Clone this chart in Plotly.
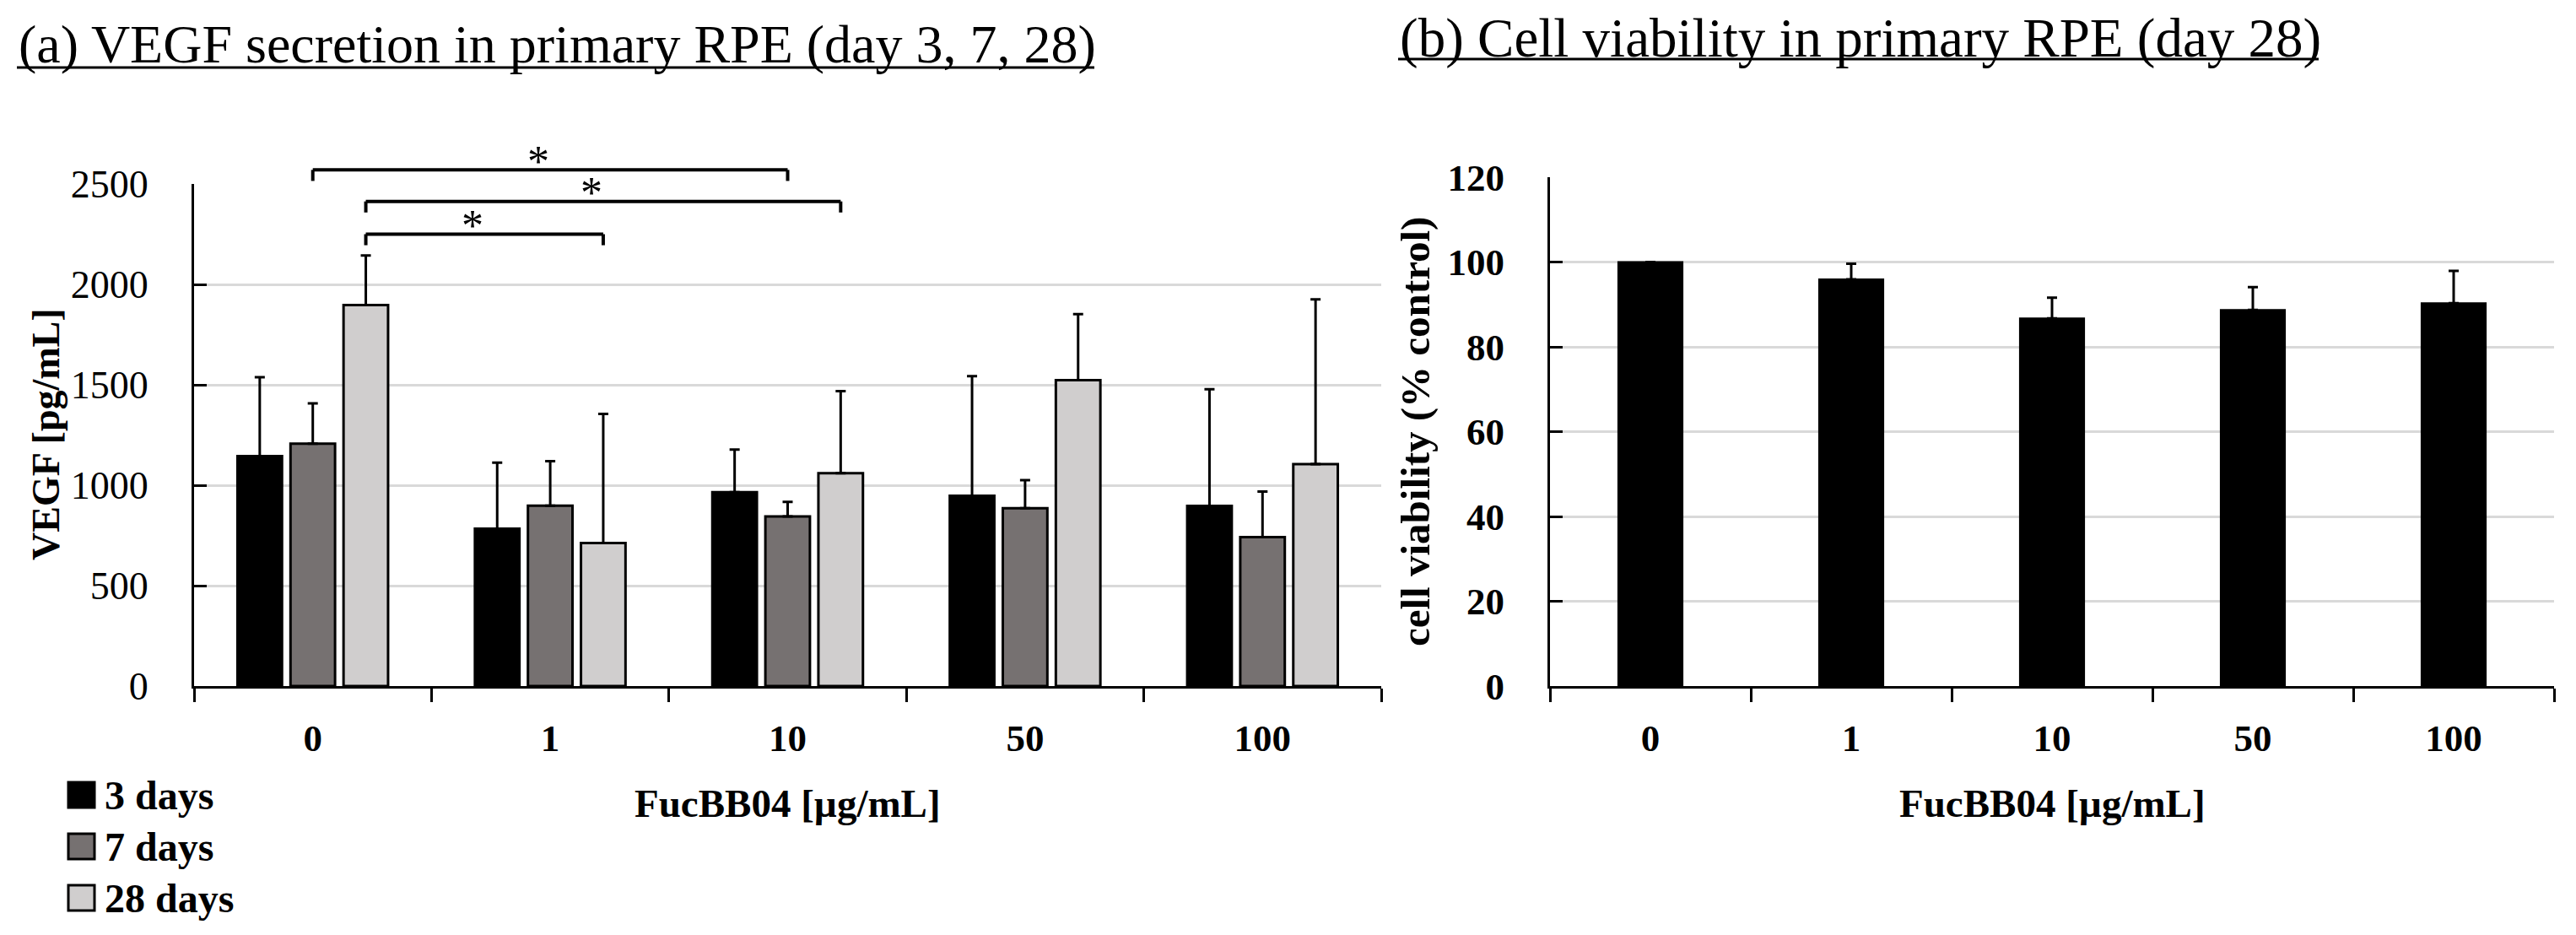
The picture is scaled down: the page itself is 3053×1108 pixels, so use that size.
import plotly.graph_objects as go

# ---------------- data ----------------
concentrations = ["0", "1", "10", "50", "100"]
series_names = ["3 days", "7 days", "28 days"]

vegf_3d = [1145, 784, 965, 947, 897]
vegf_3d_sd = [393, 328, 213, 596, 581]
vegf_7d = [1207, 898, 845, 886, 742]
vegf_7d_sd = [201, 222, 72, 139, 226]
vegf_28d = [1897, 712, 1060, 1523, 1105]
vegf_28d_sd = [247, 643, 408, 329, 820]

viability = [100, 95.9, 86.7, 88.7, 90.3]
viability_sd = [0, 3.7, 4.9, 5.4, 7.6]

# significance brackets: (from group, to group, series index, bracket level)
sig_from = [0, 0, 0]
sig_to = [2, 2, 1]
sig_series = [1, 2, 2]
sig_level = [2570, 2413, 2250]
sig_label = ["*", "*", "*"]

vegf_ticks = [0, 500, 1000, 1500, 2000, 2500]
viab_ticks = [0, 20, 40, 60, 80, 100, 120]

title_a = "(a) VEGF secretion in primary RPE (day 3, 7, 28)"
title_b = "(b) Cell viability in primary RPE (day 28)"
xtitle = "FucBB04 [µg/mL]"
ytitle_a = "VEGF [pg/mL]"
ytitle_b = "cell viability (% control)"

# ---------------- style ----------------
W, H = 3053, 1108
colors = ["#000000", "#767171", "#d0cece"]
SERIF = "Liberation Serif"
BARGAP = 0.33
BARGROUPGAP = 0.16


def px_x(p):
    return p / W


def px_y(p):
    return 1 - p / H


ax_a_x = [px_x(230), px_x(1637)]
ax_a_y = [px_y(813), px_y(218)]
ax_b_x = [px_x(1837), px_x(3027)]
ax_b_y = [px_y(813), px_y(210)]

fig = go.Figure()

for name, vals, sd, col in zip(series_names,
                               [vegf_3d, vegf_7d, vegf_28d],
                               [vegf_3d_sd, vegf_7d_sd, vegf_28d_sd],
                               colors):
    fig.add_trace(go.Bar(
        x=concentrations, y=vals, name=name,
        marker=dict(color=col, line=dict(color="black", width=3)),
        error_y=dict(type="data", array=sd, arrayminus=[0] * len(sd),
                     symmetric=False, color="black", thickness=3, width=6),
        xaxis="x", yaxis="y", showlegend=False,
    ))

fig.add_trace(go.Bar(
    x=concentrations, y=viability, name="cell viability",
    width=0.32,
    marker=dict(color="black", line=dict(color="black", width=2)),
    error_y=dict(type="data", array=viability_sd, arrayminus=[0] * len(viability_sd),
                 symmetric=False, color="black", thickness=3, width=6),
    xaxis="x2", yaxis="y2", showlegend=False,
))

common_x = dict(type="category", showline=True, linecolor="black", linewidth=3,
                ticks="outside", tickson="boundaries", ticklen=16, tickwidth=3,
                tickcolor="black", showgrid=False, zeroline=False, automargin=False,
                tickfont=dict(family=SERIF, size=45, color="black", weight="bold"),
                ticklabelstandoff=20)
common_y = dict(showline=True, linecolor="black", linewidth=3,
                ticks="inside", ticklen=15, tickwidth=3, tickcolor="black",
                showgrid=True, gridcolor="#d9d9d9", gridwidth=3, zeroline=False,
                automargin=False, ticklabelstandoff=42)

fig.update_layout(
    template="none",
    width=W, height=H,
    margin=dict(l=0, r=0, t=0, b=0, pad=0, autoexpand=False),
    paper_bgcolor="white", plot_bgcolor="white",
    barmode="group", bargap=BARGAP, bargroupgap=BARGROUPGAP,
    showlegend=False,
    xaxis=dict(domain=ax_a_x, anchor="y", **common_x),
    yaxis=dict(domain=ax_a_y, anchor="x", range=[0, 2500], tickvals=vegf_ticks,
               tickfont=dict(family=SERIF, size=46, color="black"), **common_y),
    xaxis2=dict(domain=ax_b_x, anchor="y2", **common_x),
    yaxis2=dict(domain=ax_b_y, anchor="x2", range=[0, 120], tickvals=viab_ticks,
                tickfont=dict(family=SERIF, size=45, color="black", weight="bold"),
                **common_y),
)

annotations = []
shapes = []

# titles with underline rules
for text, x0, x1, yc, yu, fs in [(title_a, 20, 1297, 52, 80, 64), (title_b, 1657, 2748, 45, 70, 65)]:
    annotations.append(dict(text=text, xref="paper", yref="paper",
                            x=px_x(x0), y=px_y(yc), xanchor="left", yanchor="middle",
                            showarrow=False, font=dict(family=SERIF, size=fs, color="black")))
    shapes.append(dict(type="line", xref="paper", yref="paper", x0=px_x(x0), x1=px_x(x1),
                       y0=px_y(yu), y1=px_y(yu), line=dict(color="black", width=3)))

# axis titles
for cx in [(ax_a_x[0] + ax_a_x[1]) / 2, (ax_b_x[0] + ax_b_x[1]) / 2]:
    annotations.append(dict(text=xtitle, xref="paper", yref="paper", x=cx, y=px_y(952),
                            xanchor="center", yanchor="middle", showarrow=False,
                            font=dict(family=SERIF, size=47, color="black", weight="bold")))
annotations.append(dict(text=ytitle_a, xref="paper", yref="paper", x=px_x(55), y=px_y(515),
                        textangle=-90, xanchor="center", yanchor="middle", showarrow=False,
                        font=dict(family=SERIF, size=46, color="black", weight="bold")))
annotations.append(dict(text=ytitle_b, xref="paper", yref="paper", x=px_x(1677), y=px_y(512),
                        textangle=-90, xanchor="center", yanchor="middle", showarrow=False,
                        font=dict(family=SERIF, size=49, color="black", weight="bold")))

# legend (manual, large swatches)
leg_rows = [942, 1003, 1064]
for name, col, yc in zip(series_names, colors, leg_rows):
    shapes.append(dict(type="rect", xref="paper", yref="paper",
                       x0=px_x(81), x1=px_x(112), y0=px_y(yc + 15), y1=px_y(yc - 15),
                       fillcolor=col, line=dict(color="black", width=3)))
    annotations.append(dict(text=name, xref="paper", yref="paper", x=px_x(122), y=px_y(yc),
                            xanchor="left", yanchor="middle", showarrow=False,
                            font=dict(family=SERIF, size=48, color="black", weight=600)))

# significance brackets, positioned from the group/series indices
ncat = len(concentrations)
nser = len(series_names)
slot = (1 - BARGAP) / nser
ymax = 2500.0
drop = 55.0


def bar_center_domain(group, series):
    pos = group + (series - (nser - 1) / 2) * slot
    return (pos + 0.5) / ncat


for g0, g1, s, lvl, lab in zip(sig_from, sig_to, sig_series, sig_level, sig_label):
    xa = bar_center_domain(g0, s)
    xb = bar_center_domain(g1, s)
    yl = lvl / ymax
    yd = (lvl - drop) / ymax
    line = dict(color="black", width=4)
    shapes.append(dict(type="line", xref="x domain", yref="y domain", x0=xa, x1=xb, y0=yl, y1=yl, line=line))
    shapes.append(dict(type="line", xref="x domain", yref="y domain", x0=xa, x1=xa, y0=yl, y1=yd, line=line))
    shapes.append(dict(type="line", xref="x domain", yref="y domain", x0=xb, x1=xb, y0=yl, y1=yd, line=line))
    annotations.append(dict(text=lab, xref="x domain", yref="y domain", x=(xa + xb) / 2 - 0.01, y=yl,
                            xanchor="center", yanchor="middle", yshift=10, showarrow=False,
                            font=dict(family=SERIF, size=52, color="black")))

fig.update_layout(annotations=annotations, shapes=shapes)

fig.write_html("out.html", config={"displayModeBar": False},
               post_script="document.body.style.margin='0';")
